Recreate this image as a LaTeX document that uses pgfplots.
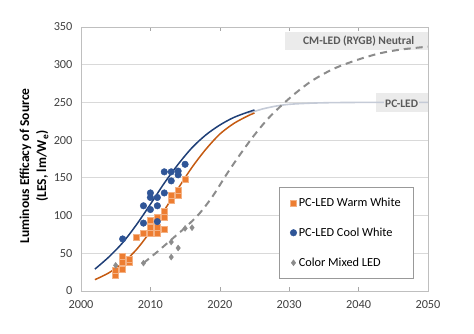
\documentclass[border=0pt]{standalone}
\usepackage{fontspec}
\setmainfont{Carlito}
\usepackage{pgfplots}
\pgfplotsset{compat=1.18}
\definecolor{cwarm}{HTML}{ED7D31}
\definecolor{cwarmedge}{HTML}{F4B183}
\definecolor{cwarmline}{HTML}{C55A11}
\definecolor{ccool}{HTML}{2F5597}
\definecolor{ccoolline}{HTML}{1F3F77}
\definecolor{cmix}{HTML}{8C8C8C}
\definecolor{cpale}{HTML}{C5CBD7}
\definecolor{cbox}{HTML}{EBEBEB}
\definecolor{ctxt}{HTML}{404040}
\begin{document}
\begin{tikzpicture}
\useasboundingbox (-81pt,-42pt) rectangle (393pt,291pt);
\begin{axis}[
  scale only axis, width=347pt, height=264pt,
  xmin=2000, xmax=2050, ymin=0, ymax=350,
  xtick={2000,2010,...,2050}, ytick={0,50,...,350},
  /pgf/number format/assume math mode=true,
  /pgf/number format/1000 sep={},
  tick label style={font=\fontsize{12.3}{14}\selectfont, text=ctxt},
  yticklabel style={xshift=-5pt},
  xticklabel style={yshift=-6pt},
  axis line style={draw=black!25},
  ymajorgrids, grid style={draw=black!15, line width=0.8pt},
  ytick style={draw=none},
  xtick style={draw=black!35},
  tick align=inside, major tick length=4pt,
  legend style={at={(0.5706,0.0492)}, anchor=south west, draw=black!40, fill=white,
    font=\fontsize{12.3}{14}\selectfont, row sep=16pt, inner xsep=11pt, inner ysep=8pt},
  legend cell align=left,
  legend image code/.code={\draw[mark repeat=2,mark phase=2,#1] plot coordinates {(0pt,0pt) (3pt,0pt) (6pt,0pt)};},
]
% label boxes
\fill[cbox] (axis cs:2029.4,319.5) rectangle (axis cs:2050,343.4);
\fill[cbox] (axis cs:2042.5,237.3) rectangle (axis cs:2050,262.5);

% fitted curves
\addplot[forget plot, cpale, line width=1.6pt, smooth] coordinates {
 (2024,236) (2025,238) (2026,241) (2028,245) (2030,247.5) (2033,249) (2036,249.7) (2040,250) (2045,250) (2050,250)};
\addplot[forget plot, ccoolline, line width=1.5pt, smooth] coordinates {
 (2002,29) (2004,45) (2006,64) (2008,88) (2010,115) (2012,143) (2014,168) (2016,190) (2018,207) (2020,220) (2022,230) (2024,237) (2025,240)};
\addplot[forget plot, cwarmline, line width=1.5pt, smooth] coordinates {
 (2002,15) (2004,24) (2006,37) (2008,55) (2010,79) (2012,107) (2014,136) (2016,164) (2018,188) (2020,208) (2022,222) (2024,232) (2025,236)};
\addplot[forget plot, cmix, line width=2pt, dash pattern=on 7pt off 5pt, smooth] coordinates {
 (2009,37) (2011,52) (2013,68) (2015,84) (2017,102) (2019,126) (2021,155) (2023,182) (2025,207) (2027,229) (2029,247) (2031,263) (2033,277) (2035,288) (2037,297) (2040,307) (2043,315) (2046,320) (2050,324)};

% data points
\addplot[only marks, mark=square*, mark size=3pt, mark options={fill=cwarm, draw=cwarmedge, line width=0.4pt}] coordinates {
 (2005,21) (2005,27) (2006,29) (2006,38) (2006,46) (2007,38) (2007,42) (2008,71) (2009,77)
 (2010,77) (2010,85) (2010,94) (2011,77) (2011,84) (2011,98) (2012,82) (2012,98) (2012,106)
 (2013,121) (2013,127) (2014,127) (2014,134) (2015,148)};
\addlegendentry{PC-LED Warm White}
\addplot[only marks, mark=*, mark size=3.3pt, mark options={fill=ccool, draw=ccool}] coordinates {
 (2006,69) (2009,90) (2009,113) (2010,108) (2010,124) (2010,130) (2011,92) (2011,113) (2011,124)
 (2012,130) (2012,158) (2013,146) (2013,158) (2014,154) (2014,159) (2015,168)};
\addlegendentry{PC-LED Cool White}
\addplot[only marks, mark=diamond*, mark size=3pt, mark options={fill=cmix, draw=cmix}] coordinates {
 (2005,34) (2009,37) (2013,45) (2013,65) (2014,57) (2015,83) (2016,84)};
\addlegendentry{Color Mixed LED}

% label texts
\node[anchor=east, fill=cbox, inner sep=1pt, text=black!65, font=\bfseries\fontsize{11.5}{13}\selectfont] at (axis cs:2048.2,331.5) {CM-LED (RYGB) Neutral};
\node[fill=cbox, inner sep=1pt, text=black!65, font=\bfseries\fontsize{11.5}{13}\selectfont] at (axis cs:2046.2,248.3) {PC-LED};
\end{axis}
\node[rotate=90, align=center, font=\bfseries\fontsize{13.5}{17}\selectfont] at (-47pt,125pt) {Luminous Efficacy of Source\\(LES, lm/W\textsubscript{e})};
\end{tikzpicture}
\end{document}
